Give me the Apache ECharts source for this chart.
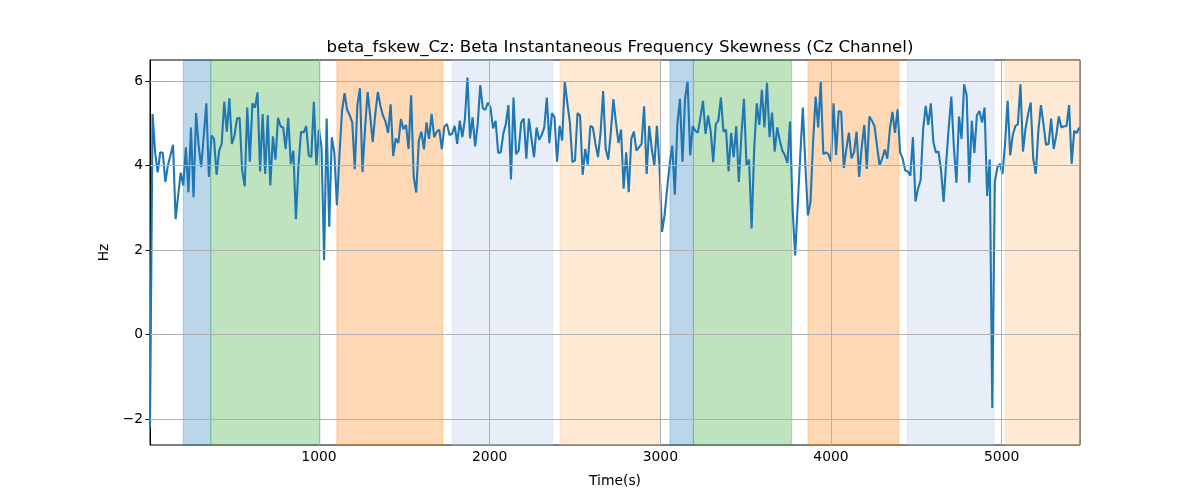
<!DOCTYPE html>
<html>
<head>
<meta charset="utf-8">
<script src="https://cdn.jsdelivr.net/npm/echarts@6/dist/echarts.min.js"></script>
<style>html,body{margin:0;padding:0;background:#fff}#c{width:1200px;height:500px}</style>
</head>
<body>
<div id="c"></div>
<script>
const TITLE = 'beta_fskew_Cz: Beta Instantaneous Frequency Skewness (Cz Channel)';
const X_NAME = 'Time(s)';
const Y_NAME = 'Hz';
const T_START = 10;
const T_STEP = 15;
const X_TICKS = [1000, 2000, 3000, 4000, 5000];
const Y_TICKS = [-2, 0, 2, 4, 6];
const X_RANGE = [10, 5459];
const Y_RANGE = [-2.615, 6.497];

const values = [
  -2.2,
  5.22,4.31,3.84,4.31,4.30,3.61,4.00,4.24,4.49,2.73,
  3.29,3.83,3.53,4.43,3.37,4.90,3.25,5.24,4.47,3.96,
  4.71,5.47,3.73,4.71,4.63,3.78,4.35,4.51,5.51,4.80,
  5.59,4.51,4.71,5.11,5.13,3.88,3.51,5.37,4.09,5.47,
  5.37,5.73,3.86,5.22,3.80,5.19,3.53,4.69,4.14,5.13,
  4.93,4.90,4.39,5.13,4.04,4.35,2.73,4.00,4.80,4.78,
  4.93,4.24,4.20,5.51,4.00,4.85,4.43,1.76,5.11,2.55,
  4.67,4.31,3.06,4.24,5.29,5.71,5.32,5.19,5.02,3.91,
  5.43,5.83,3.84,4.88,5.74,5.18,4.55,5.22,5.74,5.41,
  5.18,5.04,4.77,5.45,4.22,4.64,4.53,5.10,4.86,4.96,
  4.39,5.66,3.73,3.36,4.59,4.80,4.38,5.02,4.63,5.22,
  4.67,4.80,4.85,4.39,4.93,4.98,4.72,4.75,4.94,4.51,5.06,
  4.67,5.10,6.08,4.64,5.14,4.45,4.98,5.90,5.35,5.32,
  5.49,5.37,4.88,5.06,4.30,4.31,4.75,4.98,5.43,3.67,
  5.61,4.27,4.35,5.02,5.11,4.16,5.11,4.64,4.20,4.90,
  4.61,4.72,4.90,5.61,4.53,5.24,5.14,4.09,4.94,4.59,
  5.98,5.49,5.02,4.08,4.12,5.24,5.18,3.78,4.39,4.02,
  4.94,4.90,4.51,4.20,4.78,5.76,4.39,4.14,4.78,5.57,
  5.02,4.53,4.85,3.45,4.31,3.37,4.63,4.80,4.35,4.43,
  4.51,5.40,3.80,4.94,4.39,4.00,4.94,4.00,2.43,2.82,
  3.45,4.04,4.47,3.31,4.98,5.58,4.09,5.58,6.00,4.24,
  4.93,4.82,4.78,5.14,5.53,4.75,5.18,4.82,4.08,4.98,
  5.06,5.61,4.80,4.85,3.86,4.77,4.20,4.93,3.61,4.71,
  5.58,4.00,4.14,2.51,4.39,5.47,4.96,5.79,4.90,5.96,4.67,
  5.25,4.33,4.90,4.59,4.35,4.24,4.06,5.04,2.98,1.87,
  3.06,4.24,5.37,4.00,2.82,3.14,4.55,5.63,4.90,5.98,
  4.27,4.31,4.27,4.09,5.47,4.25,5.29,5.27,3.94,4.39,
  4.78,4.17,4.31,4.80,3.73,4.43,4.96,3.92,5.16,5.06,
  4.93,4.45,4.00,4.16,4.38,4.16,4.86,5.27,4.77,5.33,
  4.31,4.16,3.88,3.86,3.76,4.67,3.15,3.45,3.65,4.86,5.41,
  4.96,5.47,4.55,4.31,4.33,3.88,3.14,4.08,4.90,5.63,
  4.43,3.59,5.16,4.63,5.92,5.66,3.59,5.06,4.30,5.19,
  5.29,5.02,5.37,3.28,4.14,-1.74,3.62,3.96,4.04,3.80,
  4.51,5.53,4.24,4.72,4.93,4.98,5.92,4.33,4.88,5.22,
  5.49,4.16,3.80,4.82,5.43,4.98,4.49,4.51,5.11,4.39,
  4.72,5.16,4.90,4.93,4.93,5.43,4.04,4.82,4.77,4.90
];

const bandStarts = [205, 366, 1105, 1781, 2412, 3057, 3194, 3865, 4447, 5020];
const bandEnds   = [366, 1006, 1725, 2369, 2998, 3194, 3770, 4397, 4955, 5459];
const bandColors = ['#1f77b4', '#2ca02c', '#ff7f0e', '#aec7e8', '#ffbb78',
                    '#1f77b4', '#2ca02c', '#ff7f0e', '#aec7e8', '#ffbb78'];

const lineData = values.map((v, i) => [T_START + i * T_STEP, v]);
const bands = bandStarts.map((s, i) => [
  { xAxis: s, itemStyle: { color: bandColors[i], opacity: 0.3, borderColor: bandColors[i], borderWidth: 1 } },
  { xAxis: bandEnds[i] }
]);
const gridLines = X_TICKS.map(t => ({ xAxis: t })).concat(Y_TICKS.map(t => ({ yAxis: t })));
const FONT = 'DejaVu Sans';
const fmt = v => String(v).replace('-', '\u2212');

const chart = echarts.init(document.getElementById('c'), null, { renderer: 'canvas' });
chart.setOption({
  animation: false,
  backgroundColor: '#fff',
  title: {
    text: TITLE, left: 615, top: 34, textAlign: 'center',
    textStyle: { fontFamily: FONT, fontSize: 16.7, fontWeight: 'normal', color: '#000' }
  },
  grid: { left: 150, right: 120, top: 60, bottom: 55, show: true, borderColor: '#000', borderWidth: 1, backgroundColor: 'transparent' },
  xAxis: {
    type: 'value', min: X_RANGE[0], max: X_RANGE[1],
    name: X_NAME, nameLocation: 'middle', nameGap: 29,
    nameTextStyle: { fontFamily: FONT, fontSize: 13.9, color: '#000' },
    axisLine: { show: true, lineStyle: { color: '#000', width: 1 } },
    axisTick: { show: true, customValues: X_TICKS, length: 4.5, lineStyle: { color: '#000' } },
    axisLabel: { customValues: X_TICKS, margin: 5, fontFamily: FONT, fontSize: 13.9, color: '#000', formatter: fmt },
    splitLine: { show: false }
  },
  yAxis: {
    type: 'value', min: Y_RANGE[0], max: Y_RANGE[1],
    name: Y_NAME, nameLocation: 'middle', nameGap: 36, nameRotate: 90,
    nameTextStyle: { fontFamily: FONT, fontSize: 13.9, color: '#000' },
    axisLine: { show: true, lineStyle: { color: '#000', width: 1 } },
    axisTick: { show: true, customValues: Y_TICKS, length: 4.5, lineStyle: { color: '#000' } },
    axisLabel: { customValues: Y_TICKS, margin: 7, fontFamily: FONT, fontSize: 13.9, color: '#000', formatter: fmt },
    splitLine: { show: false }
  },
  series: [
    {
      type: 'line', data: [], z: 1, silent: true,
      markLine: {
        silent: true, symbol: 'none', animation: false, label: { show: false },
        lineStyle: { color: '#b0b0b0', width: 1, type: 'solid' },
        data: gridLines
      }
    },
    {
      type: 'line', data: [], z: 2, silent: true,
      markArea: { silent: true, animation: false, data: bands }
    },
    {
      type: 'line', data: lineData, z: 3, showSymbol: false, symbol: 'none',
      lineStyle: { color: '#1f77b4', width: 2.1 }, itemStyle: { color: '#1f77b4' },
      clip: true
    }
  ]
});
</script>
</body>
</html>
